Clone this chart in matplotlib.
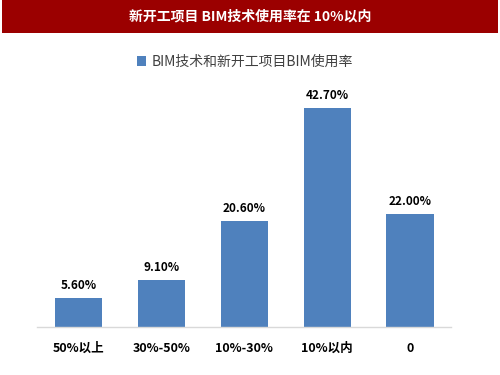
import matplotlib.pyplot as plt
from matplotlib.patches import Rectangle

plt.rcParams['font.family'] = ['Noto Sans CJK SC', 'DejaVu Sans']

categories = ["50%以上", "30%-50%", "10%-30%", "10%以内", "0"]
values = [5.6, 9.1, 20.6, 42.7, 22.0]
series_name = "BIM技术和新开工项目BIM使用率"
title = "新开工项目 BIM技术使用率在 10%以内"

fig = plt.figure(figsize=(5, 3.75), dpi=100)

# red title banner
fig.patches.append(Rectangle((0.004, 0.912), 0.992, 0.088, transform=fig.transFigure,
                             facecolor="#9B0000", edgecolor="none", zorder=0))
fig.text(0.5, 0.956, title, color="white", fontsize=10, fontweight="bold",
         ha="center", va="center")

ax = fig.add_axes([0.074, 0.128, 0.829, 0.683])
x = range(len(categories))
bars = ax.bar(x, values, width=0.57, color="#4F81BD", label=series_name, zorder=2)
for xi, v in zip(x, values):
    ax.text(xi, v + 1.2, f"{v:.2f}%", ha="center", va="bottom",
            fontsize=8.5, fontweight="bold", color="black")

ax.set_xlim(-0.5, len(categories) - 0.5)
ax.set_ylim(0, 50)
ax.set_xticks(list(x))
ax.set_xticklabels(categories, fontsize=9, fontweight="bold")
ax.tick_params(axis="x", length=0, pad=11)
ax.set_yticks([])
for s in ["top", "left", "right"]:
    ax.spines[s].set_visible(False)
ax.spines["bottom"].set_color("#D9D9D9")
ax.spines["bottom"].set_linewidth(1)

leg = fig.legend(handles=[bars], labels=[series_name], loc="center",
                 bbox_to_anchor=(0.49, 0.835), frameon=False, fontsize=10,
                 handlelength=0.7, handleheight=0.7, handletextpad=0.4)
for t in leg.get_texts():
    t.set_color("#404040")

fig.savefig("out.png", dpi=100)
